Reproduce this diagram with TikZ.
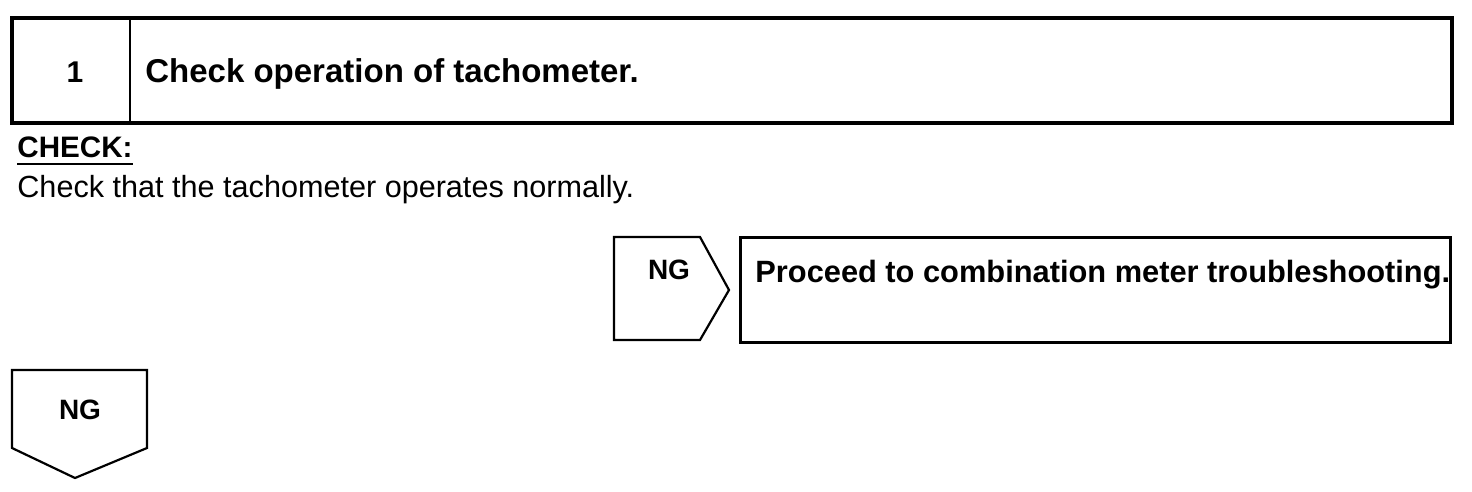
\documentclass[tikz,border=0pt]{standalone}
\usepackage{fontspec}
\setmainfont{Liberation Sans}
\usetikzlibrary{positioning}
\tikzset{
  txt/.style={inner sep=0pt, anchor=base west},
  bold/.style={txt, font=\fontsize{14}{16}\selectfont\bfseries},
}
\begin{document}
\begin{tikzpicture}[x=0.5pt, y=-0.5pt, line join=miter, font=\fontsize{14}{16}\selectfont]
    \useasboundingbox (0,0) rectangle (1472,492);
    % header box
    \coordinate (A) at (12,18);
    \coordinate (B) at (1452,18);
    \coordinate (C) at (1452,123);
    \coordinate (D) at (12,123);
    \coordinate (E) at (130,18);
    \coordinate (F) at (130,123);
    \draw[line width=1.6pt] (A) -- (B) -- (C) -- (D) -- cycle;
    \draw[line width=1.2pt] (E) -- (F);
    \node[bold, anchor=base, font=\fontsize{15}{17}\selectfont\bfseries] (num) at (75,83) {1};
    \node[bold, font=\fontsize{16.5}{18}\selectfont\bfseries] (title) at (145,83) {Check operation of tachometer.};
    % check text
    \node[bold, font=\fontsize{14.8}{17}\selectfont\bfseries] (chk) at (17,157) {CHECK:};
    \draw[line width=1pt] (17,164) -- (133,164);
    \node[txt, font=\fontsize{15.3}{17}\selectfont] (desc) at (17,198) {Check that the tachometer operates normally.};
    % NG to the right
    \coordinate (G1) at (614,237);
    \coordinate (G2) at (700,237);
    \coordinate (G3) at (729,290);
    \coordinate (G4) at (700,340);
    \coordinate (G5) at (614,340);
    \draw[line width=1.1pt] (G1) -- (G2) -- (G3) -- (G4) -- (G5) -- cycle;
    \node[bold, anchor=base] (ng1) at (669,279) {NG};
    \coordinate (H1) at (740,237);
    \coordinate (H2) at (1450,237);
    \coordinate (H3) at (1450,342);
    \coordinate (H4) at (740,342);
    \draw[line width=1.5pt] (H1) -- (H2) -- (H3) -- (H4) -- cycle;
    \node[bold, font=\fontsize{15.4}{17}\selectfont\bfseries] (next) at (755,282) {Proceed to combination meter troubleshooting.};
    % NG downwards
    \coordinate (K1) at (12,370);
    \coordinate (K2) at (147,370);
    \coordinate (K3) at (147,448);
    \coordinate (K4) at (75,478);
    \coordinate (K5) at (12,448);
    \draw[line width=1.1pt] (K1) -- (K2) -- (K3) -- (K4) -- (K5) -- cycle;
    \node[bold, anchor=base] (ng2) at (80,419) {NG};
\end{tikzpicture}
\end{document}
